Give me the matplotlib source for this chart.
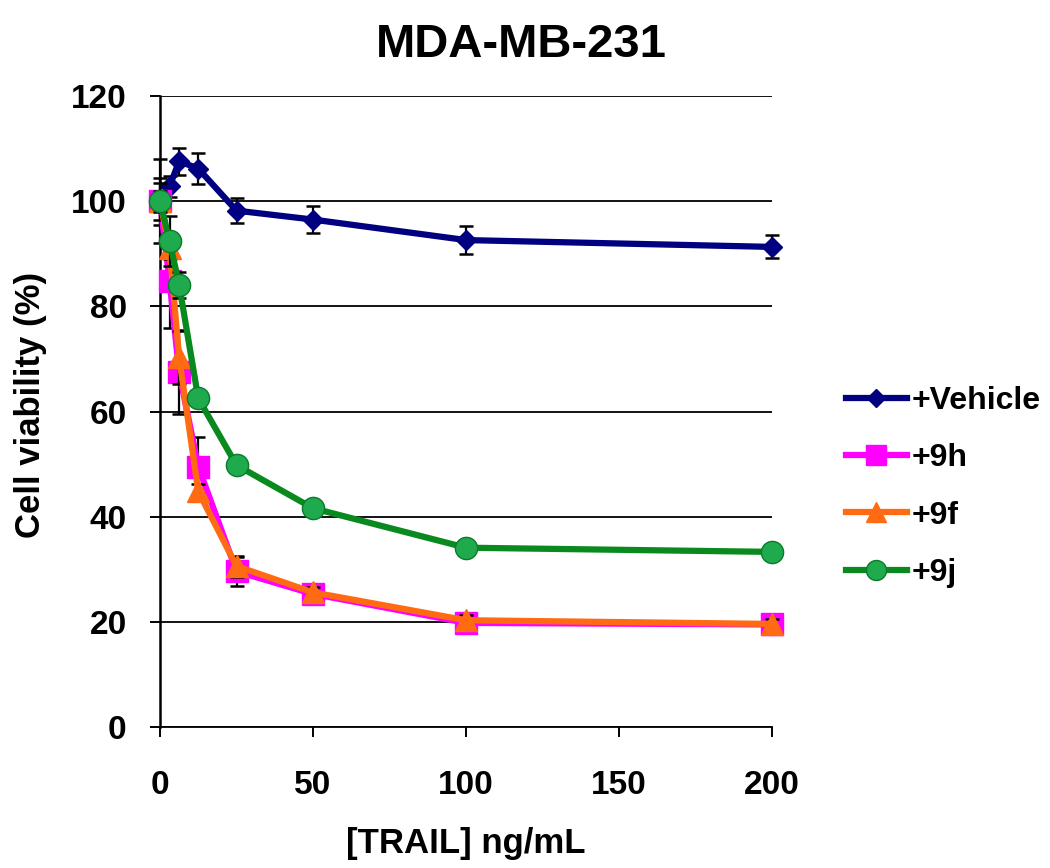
import matplotlib
matplotlib.use("Agg")
import matplotlib.pyplot as plt

plt.rcParams['font.family'] = ['Liberation Sans', 'DejaVu Sans']

# TRAIL concentration (ng/mL)
conc = [0, 3.125, 6.25, 12.5, 25, 50, 100, 200]

# cell viability (%) and error bars
vehicle = [100, 102.8, 107.6, 106.2, 98.2, 96.5, 92.6, 91.3]
vehicle_err = [8, 2, 2.6, 3, 2.4, 2.6, 2.7, 2.2]
h9 = [100, 84.9, 67.5, 49.5, 29.6, 25.3, 19.8, 19.5]
h9_err = [4.5, 9, 8, 5.6, 2.7, 1, 1, 1]
f9 = [100, 91, 70.3, 44.8, 30.6, 25.6, 20.3, 19.6]
f9_err = [3.5, 2, 5, 1.5, 2, 1, 1, 1]
j9 = [100, 92.4, 84.1, 62.5, 49.8, 41.6, 34.1, 33.3]
j9_err = [2, 4.8, 2.5, 1, 1, 1, 1, 1]

labels = ['+Vehicle', '+9h', '+9f', '+9j']
yticks = [0, 20, 40, 60, 80, 100, 120]
xticks = [0, 50, 100, 150, 200]

fig = plt.figure(figsize=(10.5, 8.68), dpi=100)
ax = fig.add_axes([160/1050, 141/868, 612/1050, 631/868])

series = [
    (vehicle, vehicle_err, '#000080', 'D', 10.5, '#000080', '#000080'),
    (h9, h9_err, '#FF00FF', 's', 15.5, '#FF00FF', '#FF00FF'),
    (f9, f9_err, '#FF6A13', '^', 15.5, '#FF6A13', '#FF6A13'),
    (j9, j9_err, '#0A8A1E', 'o', 16, '#1FAA4E', '#0B7A2A'),
]

handles = []
for i, (y, err, col, mk, ms, fc, ec) in enumerate(series):
    ax.errorbar(conc, y, yerr=err, fmt='none', ecolor='black', elinewidth=1.6,
                capsize=4.7, capthick=1.8, zorder=2 + i, clip_on=False)
    ln, = ax.plot(conc, y, color=col, lw=4.5, marker=mk, ms=ms,
                  markerfacecolor=fc, markeredgecolor=ec, markeredgewidth=1,
                  zorder=3 + i, clip_on=False)
    handles.append(ln)

ax.set_xlim(0, 200)
ax.set_ylim(0, 120)
ax.set_xticks(xticks)
ax.set_yticks(yticks)
ax.yaxis.grid(True, color='black', lw=1.3)
ax.set_axisbelow(True)
for s in ['top', 'right']:
    ax.spines[s].set_visible(False)
ax.spines['left'].set_linewidth(1.8)
ax.spines['bottom'].set_linewidth(1.3)
ax.tick_params(axis='both', direction='out', length=7, width=1.4,
               labelsize=24)
ax.tick_params(axis='y', pad=17)
ax.tick_params(axis='x', pad=24)
for t in ax.get_xticklabels() + ax.get_yticklabels():
    t.set_fontweight('bold')

fig.text(0.497, 1 - 57/868, 'MDA-MB-231', fontsize=34, fontweight='bold',
         ha='center', va='baseline')
fig.text(31/1050, 1 - 405/868, 'Cell viability (%)', fontsize=25,
         fontweight='bold', rotation=90, ha='center', va='center')
fig.text(466/1050, 1 - 853/868, '[TRAIL] ng/mL', fontsize=25,
         fontweight='bold', ha='center', va='baseline')

fig.legend(handles, labels, loc='center left',
           bbox_to_anchor=(846/1050, 1 - 487/868), frameon=False,
           prop={'size': 23, 'weight': 'bold'}, handlelength=1.9,
           handletextpad=0.15, labelspacing=0.85, borderpad=0,
           borderaxespad=0, markerscale=0.9)

fig.savefig('out.png', dpi=100)
